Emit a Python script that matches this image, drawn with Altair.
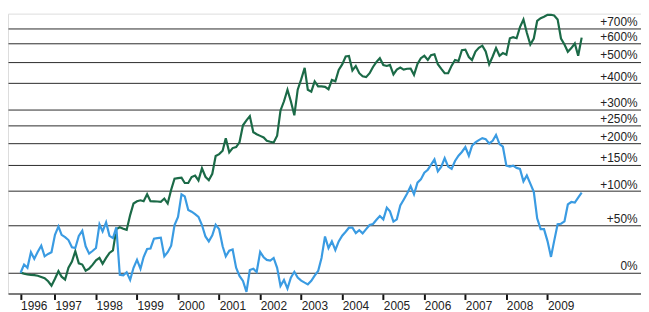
import altair as alt
import pandas as pd

# Monthly cumulative returns (%) starting March 1996
start_month = "1996-03-01"
series_names = ["Fund", "Index"]

green_pct = [
    0, -0.8, -1.5, -1.8, -2, -2.5, -3.5, -4.5, -7, -10.4,
    -5, 1.3, -3.3, -5.6, 4.3, 10, 20, 8.3, 7.2, 1.7,
    3.6, 6.9, 11.1, 13.4, 7.9, 13.4, 18.3, 20.8, 44.8, 47.2,
    45.4, 43.9, 63.2, 80.1, 83.5, 85.1, 83.6, 94.7, 83.6, 83.5,
    83.2, 82.7, 87.8, 80.1, 102.5, 122.2, 123.5, 124.1, 114.3, 114.3,
    125.4, 128.4, 119.1, 142.7, 126, 119.5, 131.8, 169.7, 174, 182,
    213.8, 178.2, 188.4, 191, 203, 250, 265, 278.4, 230, 224.4,
    219.9, 215.6, 207, 204.4, 202.5, 220.3, 297, 329.3, 373.6, 329.3,
    281, 373.6, 417, 470, 373.6, 365.8, 408.6, 387.1, 387.1, 385,
    375.5, 414.3, 408.6, 460.4, 487, 528, 531, 458, 479.5, 445,
    430.5, 427, 445, 474.6, 500, 518.9, 484.4, 479.5, 484.4, 439.6,
    461.8, 471.6, 462, 466, 467, 437.3, 490, 518.9, 532, 509.5,
    535, 540, 488, 465, 444.8, 444.8, 481, 509.5, 504.3, 563,
    566, 525, 509.5, 555, 576, 588.5, 555, 488, 528, 574.5,
    532, 546.4, 537.3, 633.5, 640, 633.5, 706, 760.5, 668, 595.6,
    631.5, 749.6, 770, 780, 795, 795, 790, 760.5, 631.5, 595.6,
    553.7, 574.5, 601.5, 532, 637,
]

blue_pct = [
    0, 7.2, 4.3, 19, 12.5, 19.6, 25.9, 15, 17.3, 19,
    38, 48.2, 38, 35.4, 32, 24.2, 23.4, 36.8, 42.8, 25.2,
    17.6, 20.3, 23.4, 50.9, 42, 53.3, 36.8, 34.2, 47.2, -1.7,
    -2.2, 0.4, -5.9, 4.3, 11.5, 3.4, 14.3, 22.3, 22.9, 33.6,
    34.2, 34.7, 15, 19, 25.8, 50, 60.8, 94.7, 91.2, 70.4,
    68, 64.5, 60.8, 50, 36.1, 30.5, 37.5, 50.3, 44.8, 25.2,
    15, 20.7, 21.8, 4.3, -2.7, -6.7, -15, 2.3, 3.4, 0.6,
    19.3, 14.1, 11.5, 10.9, 13.4, 4.3, -10.6, -6, -12.6, -4.1,
    0.8, -4.1, -6.5, -8.1, -9.4, -6.7, -2.5, 1.5, 13.4, 36.1,
    23.4, 30.5, 21.3, 30.5, 37, 41.7, 46.6, 46.6, 40, 43.6,
    39.7, 44.8, 50, 51.3, 56.8, 62, 57.4, 73.8, 68.4, 54.4,
    57.4, 77, 86, 96, 108.6, 94.7, 115, 121, 133.9, 140,
    150, 162, 136.7, 146.4, 164.6, 146.4, 141.7, 158.5, 170.3, 179,
    190.9, 170.3, 194, 202.6, 208.5, 213.8, 211.1, 200, 206.6, 222.4,
    198.3, 191.8, 148.3, 146.3, 148.3, 143.7, 141.7, 117.3, 128.5, 113.1,
    99, 58.7, 44.8, 44.8, 30.8, 14.4, 30.8, 51, 51.6, 54.8,
    78.6, 82.4, 81.6, 89.4, 97.4,
]

grid_levels = [0, 50, 100, 150, 200, 250, 300, 400, 500, 600, 700]
tick_years = list(range(1997, 2010))

GREEN = "#1b6a47"
BLUE = "#3a9be2"
FONT = "Liberation Sans"

dates = pd.date_range(start_month, periods=len(green_pct), freq="MS")
df = pd.concat([
    pd.DataFrame({"date": dates, "pct": green_pct, "series": series_names[0]}),
    pd.DataFrame({"date": dates, "pct": blue_pct, "series": series_names[1]}),
], ignore_index=True)
df["factor"] = 1 + df["pct"] / 100.0

x_ticks = [alt.DateTime(year=1996, month=3, date=1)] + [
    alt.DateTime(year=y, month=1, date=1) for y in tick_years
]

chart = alt.Chart(df).mark_line(strokeWidth=2.2).encode(
    x=alt.X(
        "date:T",
        scale=alt.Scale(domain=[alt.DateTime(year=1995, month=11, date=10),
                                alt.DateTime(year=2011, month=4, date=13)]),
        axis=alt.Axis(
            values=x_ticks,
            labelExpr="timeFormat(datum.value, '%Y')",
            labelAlign="left",
            labelBaseline="top",
            labelPadding=1,
            tickSize=6,
            tickWidth=2,
            tickColor="#111",
            domainColor="#555",
            domainWidth=1.5,
            grid=False,
            title=None,
            labelFontSize=12,
            labelColor="#222",
            labelFont=FONT,
            labelFlush=False,
            labelOverlap=False,
        ),
    ),
    y=alt.Y(
        "factor:Q",
        scale=alt.Scale(type="log", domain=[0.838, 9.04], nice=False),
        axis=alt.Axis(
            orient="right",
            values=[1 + v / 100.0 for v in grid_levels],
            labelExpr="datum.value < 1.001 ? '0%' : '+' + format((datum.value - 1) * 100, 'd') + '%'",
            grid=True,
            gridColor="#2a2a2a",
            gridWidth=1,
            domain=False,
            ticks=False,
            labelAlign="right",
            labelBaseline="alphabetic",
            labelPadding=-4,
            labelOffset=-3,
            labelFontSize=12,
            labelColor="#222",
            labelFont=FONT,
            labelFlush=False,
            labelOverlap=False,
            title=None,
        ),
    ),
    color=alt.Color(
        "series:N",
        scale=alt.Scale(domain=series_names, range=[GREEN, BLUE]),
        legend=None,
    ),
).properties(
    width=640,
    height=283,
    padding=0,
).configure_view(stroke=None).configure(background="white")

chart.save("out.html", embed_options={"renderer": "svg", "actions": False})
